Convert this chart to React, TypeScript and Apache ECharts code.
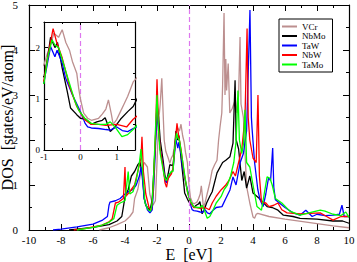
import React, { useEffect, useRef } from "react";
import * as echarts from "echarts";

const seriesNames = ["VCr", "NbMo", "TaW", "NbW", "TaMo"];
const seriesColors = ["#bc8f8f", "#000000", "#0000ff", "#ff0000", "#00ff00"];

const vcr: number[][] = [
  [-5.6, 0], [-5, 0.05], [-4.5, 0.12], [-4, 0.2], [-3.7, 0.3], [-3.5, 0.4], [-3.4, 0.7], [-3.2, 0.9],
  [-3.0, 1.3], [-2.8, 1.5], [-2.6, 1.4], [-2.45, 0.8], [-2.25, 0.55], [-2.1, 0.65], [-2.0, 1.5],
  [-1.9, 2.4], [-1.8, 2.8], [-1.7, 3.37], [-1.65, 2.9], [-1.55, 2.0], [-1.45, 1.75], [-1.3, 1.6],
  [-1.2, 1.48], [-1.1, 1.6], [-1.0, 1.67], [-0.9, 1.9], [-0.8, 2.1], [-0.73, 2.28], [-0.6, 2.2],
  [-0.5, 2.35], [-0.4, 2.1], [-0.3, 1.95], [-0.22, 1.73], [-0.1, 1.5], [-0.05, 1.22], [0.0, 1.0],
  [0.09, 0.72], [0.2, 0.62], [0.3, 0.58], [0.4, 0.6], [0.5, 0.62], [0.6, 0.7], [0.7, 0.8],
  [0.77, 0.98], [0.85, 0.7], [0.9, 0.5], [1.0, 0.6], [1.1, 0.75], [1.2, 0.9], [1.3, 1.05],
  [1.45, 1.33], [1.6, 1.45], [1.75, 1.55], [1.85, 2.0], [1.94, 2.29], [2.05, 2.6], [2.1, 3.2],
  [2.19, 4.82], [2.25, 3.0], [2.3, 3.8], [2.35, 3.1], [2.45, 3.7], [2.55, 2.6], [2.7, 2.7],
  [2.9, 2.9], [3.0, 2.6], [3.1, 3.0], [3.19, 4.29], [3.25, 2.8], [3.4, 2.5], [3.6, 0.97],
  [3.8, 0.6], [4.0, 0.29], [4.1, 0.26], [4.2, 0.35], [4.3, 0.37], [5, 0.3], [6, 0.24],
  [7, 0.19], [8, 0.14], [9, 0.09], [10, 0.05],
];

const nbmo: number[][] = [
  [-7.5, 0], [-7, 0.02], [-6, 0.06], [-5, 0.12], [-4.5, 0.2], [-4.2, 0.3], [-4.0, 0.73], [-3.8, 0.9],
  [-3.6, 1.2], [-3.4, 1.3], [-3.2, 1.45], [-3.06, 1.51], [-2.9, 1.2], [-2.8, 0.7], [-2.7, 0.55],
  [-2.5, 0.45], [-2.4, 0.5], [-2.3, 0.67], [-2.2, 1.3], [-2.1, 2.0], [-2.0, 2.8], [-1.9, 2.5],
  [-1.8, 2.0], [-1.6, 1.5], [-1.5, 1.2], [-1.4, 1.1], [-1.3, 1.25], [-1.2, 1.45], [-1.0, 1.43],
  [-0.9, 1.8], [-0.82, 2.2], [-0.7, 2.0], [-0.63, 2.1], [-0.5, 1.6], [-0.36, 1.14], [-0.27, 0.82],
  [-0.1, 0.69], [0, 0.62], [0.15, 0.6], [0.3, 0.5], [0.45, 0.55], [0.6, 0.58], [0.68, 0.63],
  [0.82, 0.36], [0.95, 0.45], [1.1, 0.6], [1.3, 0.75], [1.45, 0.85], [1.75, 1.27], [2.1, 1.5],
  [2.3, 1.55], [2.56, 1.63], [2.75, 1.93], [2.88, 3.33], [2.95, 2.0], [3.1, 1.8], [3.3, 1.1],
  [3.45, 1.3], [3.6, 0.93], [3.8, 1.2], [4.0, 0.82], [4.4, 0.7], [4.88, 0.52], [5.2, 0.5],
  [5.56, 0.44], [5.9, 0.33], [6.5, 0.3], [6.94, 0.26], [8, 0.24], [9, 0.2], [9.6, 0.2], [10, 0.15],
];

const taw: number[][] = [
  [-8.5, 0], [-8, 0.02], [-7, 0.07], [-6, 0.13], [-5.4, 0.22], [-5.1, 0.3], [-5.0, 0.55], [-4.94, 0.62],
  [-4.6, 0.65], [-4.3, 0.7], [-4.0, 0.8], [-3.8, 0.85], [-3.5, 0.9], [-3.3, 1.0], [-3.1, 1.2],
  [-3.0, 1.4], [-2.9, 1.1], [-2.8, 0.7], [-2.6, 0.45], [-2.44, 0.38], [-2.3, 0.45], [-2.2, 1.0],
  [-2.1, 1.8], [-2.0, 2.6], [-1.9, 2.2], [-1.8, 1.8], [-1.6, 1.4], [-1.5, 1.1], [-1.4, 1.05],
  [-1.2, 1.25], [-1.0, 1.33], [-0.82, 2.02], [-0.7, 1.82], [-0.64, 1.95], [-0.5, 1.7],
  [-0.41, 1.41], [-0.22, 1.08], [0, 0.75], [0.13, 0.52], [0.2, 0.45], [0.3, 0.43], [0.5, 0.42],
  [0.7, 0.4], [0.82, 0.39], [1.0, 0.45], [1.15, 0.38], [1.3, 0.36], [1.45, 0.42], [1.7, 0.5],
  [2.06, 0.52], [2.3, 0.7], [2.56, 0.89], [2.75, 1.18], [2.94, 1.0], [3.2, 1.5], [3.4, 1.7],
  [3.6, 2.2], [3.81, 4.89], [3.9, 2.5], [3.94, 2.26], [4.1, 1.5], [4.3, 0.9], [4.44, 0.67],
  [4.63, 0.52], [4.8, 0.8], [4.97, 1.16], [5.1, 1.1], [5.23, 1.82], [5.3, 0.95], [5.4, 0.67],
  [6, 0.5], [6.5, 0.38], [6.94, 0.33], [7.3, 0.44], [7.7, 0.3], [8, 0.35], [8.5, 0.32], [9, 0.33],
  [9.4, 0.35], [9.56, 0.55], [9.7, 0.3], [10, 0.3],
];

const nbw: number[][] = [
  [-7.2, 0], [-6.5, 0.03], [-6, 0.07], [-5.5, 0.1], [-5, 0.18], [-4.8, 0.25], [-4.6, 0.6], [-4.4, 0.62],
  [-4.1, 0.7], [-4.0, 1.4], [-3.95, 0.75], [-3.7, 0.85], [-3.4, 1.0], [-3.2, 1.3], [-3.0, 1.6],
  [-2.94, 2.07], [-2.85, 1.3], [-2.7, 0.8], [-2.5, 0.5], [-2.35, 0.45], [-2.25, 0.8], [-2.1, 2.0],
  [-2.0, 3.35], [-1.9, 2.3], [-1.8, 1.8], [-1.6, 1.35], [-1.5, 1.05], [-1.4, 0.95], [-1.3, 1.15],
  [-1.1, 1.25], [-1.0, 1.37], [-0.85, 2.0], [-0.75, 2.37], [-0.65, 2.1], [-0.5, 1.8], [-0.3, 1.25],
  [-0.1, 0.85], [0.12, 0.59], [0.3, 0.5], [0.5, 0.5], [0.7, 0.48], [1.0, 0.5], [1.27, 0.45],
  [1.45, 0.6], [1.7, 0.75], [2.0, 0.89], [2.3, 1.0], [2.5, 1.1], [2.75, 1.3], [2.9, 1.2],
  [3.1, 1.5], [3.3, 1.8], [3.5, 2.5], [3.63, 4.48], [3.7, 2.5], [3.8, 2.0], [4.0, 1.6], [4.2, 1.5],
  [4.31, 3.0], [4.4, 1.2], [4.53, 0.62], [4.8, 0.6], [5.0, 0.52], [5.3, 0.55], [5.56, 0.6],
  [5.8, 0.45], [6.13, 0.38], [7, 0.36], [8.2, 0.38], [8.6, 0.3], [9, 0.22], [9.5, 0.3], [10, 0.3],
];

const tamo: number[][] = [
  [-7, 0], [-6.5, 0.03], [-6, 0.06], [-5.5, 0.1], [-5, 0.17], [-4.7, 0.25], [-4.5, 0.55], [-4.3, 0.6],
  [-4.0, 0.65], [-3.8, 1.3], [-3.7, 0.8], [-3.5, 0.85], [-3.3, 1.1], [-3.1, 1.5], [-3.0, 1.8],
  [-2.9, 1.3], [-2.75, 0.6], [-2.55, 0.45], [-2.4, 0.42], [-2.3, 0.6], [-2.2, 1.3], [-2.1, 2.2],
  [-2.0, 3.0], [-1.9, 2.2], [-1.8, 1.7], [-1.6, 1.3], [-1.5, 1.15], [-1.4, 1.1], [-1.3, 1.2],
  [-1.1, 1.3], [-1.0, 1.3], [-0.9, 1.8], [-0.78, 2.15], [-0.7, 2.05], [-0.6, 2.0], [-0.45, 1.65],
  [-0.3, 1.3], [-0.15, 0.95], [-0.05, 0.78], [0.12, 0.62], [0.3, 0.52], [0.5, 0.5], [0.7, 0.5],
  [0.82, 0.55], [0.95, 0.45], [1.14, 0.26], [1.3, 0.3], [1.45, 0.4], [1.7, 0.6], [2.0, 0.74],
  [2.2, 0.9], [2.4, 1.0], [2.6, 1.2], [2.8, 1.5], [2.95, 2.0], [3.06, 3.1], [3.15, 2.0],
  [3.3, 1.7], [3.4, 1.9], [3.5, 2.67], [3.6, 1.5], [3.8, 1.4], [4.0, 1.0], [4.25, 0.52],
  [4.53, 0.44], [4.7, 0.8], [4.88, 1.18], [5.06, 1.15], [5.2, 1.0], [5.4, 0.7], [5.8, 0.6],
  [6.3, 0.42], [6.94, 0.33], [7.5, 0.38], [8.2, 0.44], [8.5, 0.42], [9, 0.35], [9.5, 0.32],
  [9.8, 0.4], [10, 0.28],
];

const seriesData = [vcr, nbmo, taw, nbw, tamo];

const mainXRange = { min: -10, max: 10, interval: 2 };
const mainYRange = { min: 0, max: 5, interval: 1 };
const insetXRange = { min: -1, max: 1.5, interval: 1 };
const insetYRange = { min: 0, max: 2.5, interval: 1 };
const fermiLevel = 0;

const FONT = "'Liberation Serif', 'DejaVu Serif', serif";

function frameAxis(gridIndex: number, pos: string, range: any, opts: any) {
  const isMain = gridIndex === 0;
  return {
    type: "value",
    gridIndex,
    position: pos,
    min: range.min,
    max: range.max,
    interval: range.interval,
    z: isMain ? 1 : 4,
    nameMoveOverlap: false,
    axisLine: { show: true, onZero: false, lineStyle: { color: "#000", width: 1.2 } },
    axisTick: { show: true, inside: true, length: isMain ? 6 : 4, lineStyle: { color: "#000", width: 1 } },
    minorTick: { show: true, splitNumber: 2, length: isMain ? 3 : 2, lineStyle: { color: "#000", width: 1 } },
    splitLine: { show: false },
    ...opts,
  };
}

export default function App() {
  const ref = useRef<HTMLDivElement>(null);
  useEffect(() => {
    if (!ref.current) return;
    const chart = echarts.init(ref.current, null, { renderer: "svg" });
    const noLabel = { axisLabel: { show: false } };
    const makeSeries = (xi: number, yi: number, z: number) =>
      seriesData.map((d, i) => ({
        type: "line",
        name: seriesNames[i],
        data: d,
        xAxisIndex: xi,
        yAxisIndex: yi,
        symbol: "none",
        showSymbol: false,
        z,
        clip: true,
        lineStyle: { color: seriesColors[i], width: 1.3 },
        itemStyle: { color: seriesColors[i] },
      }));
    const dashLine = (xi: number, yi: number, z: number) => ({
      type: "line",
      data: [],
      xAxisIndex: xi,
      yAxisIndex: yi,
      z,
      silent: true,
      markLine: {
        silent: true,
        symbol: "none",
        label: { show: false },
        lineStyle: { color: "#dd77ee", type: [5, 3], width: 1.2 },
        data: [{ xAxis: fermiLevel }],
      },
    });
    chart.setOption({
      animation: false,
      backgroundColor: "#fff",
      textStyle: { fontFamily: FONT },
      grid: [
        { left: 29, right: 8, top: 5, bottom: 32, containLabel: false, outerBoundsMode: "none" },
        {
          left: 44, top: 22, width: 91, height: 128, containLabel: false, outerBoundsMode: "none",
          show: true, backgroundColor: "#fff", borderWidth: 0, z: 3,
        },
      ],
      legend: {
        data: seriesNames,
        orient: "vertical",
        left: 279,
        top: 19,
        padding: [3, 7, 3, 3],
        itemGap: 0.5,
        icon: "rect",
        itemWidth: 15,
        itemHeight: 2,
        borderColor: "#000",
        borderWidth: 1,
        borderRadius: 0,
        backgroundColor: "#fff",
        selectedMode: false,
        textStyle: { fontFamily: FONT, fontSize: 9, color: "#000", lineHeight: 9 },
      },
      xAxis: [
        frameAxis(0, "bottom", mainXRange, {
          name: "E  [eV]",
          nameLocation: "middle",
          nameGap: 16,
          nameTextStyle: { fontFamily: FONT, fontSize: 16, color: "#000" },
          axisLabel: { fontFamily: FONT, fontSize: 11, color: "#000", margin: 4 },
        }),
        frameAxis(0, "top", mainXRange, noLabel),
        frameAxis(1, "bottom", insetXRange, {
          axisLabel: { fontFamily: FONT, fontSize: 9, color: "#000", margin: 2, showMaxLabel: false },
        }),
        frameAxis(1, "top", insetXRange, noLabel),
      ],
      yAxis: [
        frameAxis(0, "left", mainYRange, {
          name: "DOS  [states/eV/atom]",
          nameLocation: "middle",
          nameGap: 14,
          nameRotate: 90,
          nameTextStyle: { fontFamily: FONT, fontSize: 16, color: "#000" },
          axisLabel: { fontFamily: FONT, fontSize: 11, color: "#000", margin: 11 },
        }),
        frameAxis(0, "right", mainYRange, noLabel),
        frameAxis(1, "left", insetYRange, {
          axisLabel: { fontFamily: FONT, fontSize: 9, color: "#000", margin: 4, showMaxLabel: false },
        }),
        frameAxis(1, "right", insetYRange, noLabel),
      ],
      series: [dashLine(0, 0, 1), ...makeSeries(0, 0, 2), dashLine(2, 2, 4), ...makeSeries(2, 2, 5)],
    });
    return () => chart.dispose();
  }, []);
  return <div ref={ref} style={{ width: 357, height: 262, position: "absolute", left: 0, top: 0 }} />;
}
